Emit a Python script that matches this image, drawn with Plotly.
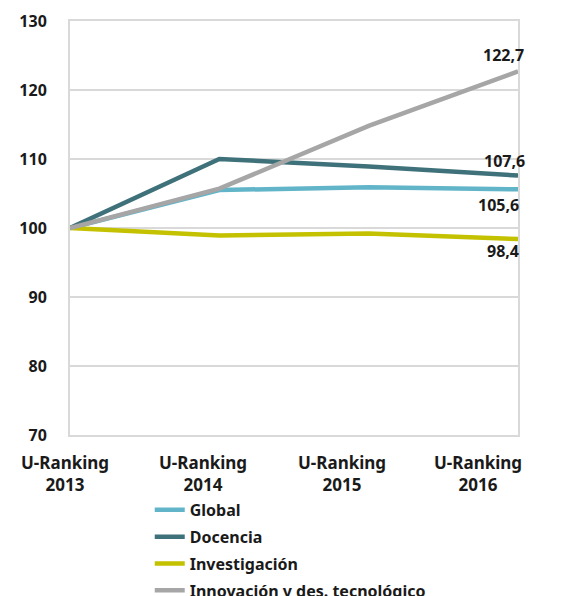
import plotly.graph_objects as go

categories = ["U-Ranking<br>2013", "U-Ranking<br>2014", "U-Ranking<br>2015", "U-Ranking<br>2016"]
series_names = ["Global", "Docencia", "Investigación", "Innovación y des. tecnológico"]
global_vals = [100, 105.5, 105.9, 105.6]
docencia_vals = [100, 110.0, 108.9, 107.6]
investigacion_vals = [100, 98.9, 99.2, 98.4]
innovacion_vals = [100, 105.7, 114.8, 122.7]
colors = ["#62b5c8", "#3f717a", "#c4c200", "#a6a6a6"]
end_labels = ["105,6", "107,6", "98,4", "122,7"]
label_shift = [(-20, -16), (-14, 15), (-15, -12), (-15, 16)]

all_vals = [global_vals, docencia_vals, investigacion_vals, innovacion_vals]
x_idx = list(range(len(categories)))
tick_pos = [-0.035, 0.89, 1.82, 2.73]

fig = go.Figure()
for i, (name, vals, col) in enumerate(zip(series_names, all_vals, colors)):
    fig.add_trace(go.Scatter(x=x_idx, y=vals, mode="lines", name=name, legendgroup=f"g{i}",
                             line=dict(color=col, width=4.5), hoverinfo="skip"))

for vals, lab, (dx, dy) in zip(all_vals, end_labels, label_shift):
    fig.add_annotation(x=x_idx[-1], y=vals[-1], text=lab, showarrow=False,
                       xshift=dx, yshift=dy,
                       font=dict(family="Open Sans", size=16, color="#1a1a1a", weight="bold"))

for pos, cat in zip(tick_pos, categories):
    fig.add_annotation(x=pos / (len(categories) - 1), xref="paper", xanchor="center",
                       y=0, yref="paper", yanchor="top", yshift=-14,
                       text=cat, showarrow=False, align="center",
                       font=dict(family="Noto Sans", size=17, color="#1a1a1a", weight="bold"))

fig.update_layout(
    width=550, height=588,
    margin=dict(l=62, r=40, t=13, b=161, autoexpand=False),
    paper_bgcolor="white", plot_bgcolor="white",
    showlegend=True,
    legend=dict(x=0.178, y=-0.14, xanchor="left", yanchor="top",
                font=dict(family="Noto Sans", size=16, color="#1a1a1a", weight="bold"),
                tracegroupgap=3, itemwidth=30, bgcolor="rgba(0,0,0,0)"),
    xaxis=dict(range=[0, 3], showticklabels=False, automargin=False,
               showgrid=False, zeroline=False, showline=True, mirror=True,
               linecolor="#d9d9d9", linewidth=2),
    yaxis=dict(range=[70, 130], dtick=10, showgrid=True, gridcolor="#d9d9d9", gridwidth=1.5,
               zeroline=False, showline=True, mirror=True, linecolor="#d9d9d9", linewidth=2,
               ticklabelstandoff=18, automargin=False,
               tickfont=dict(family="Open Sans", size=16, color="#1a1a1a", weight="bold")),
)
fig.write_html("out.html")
